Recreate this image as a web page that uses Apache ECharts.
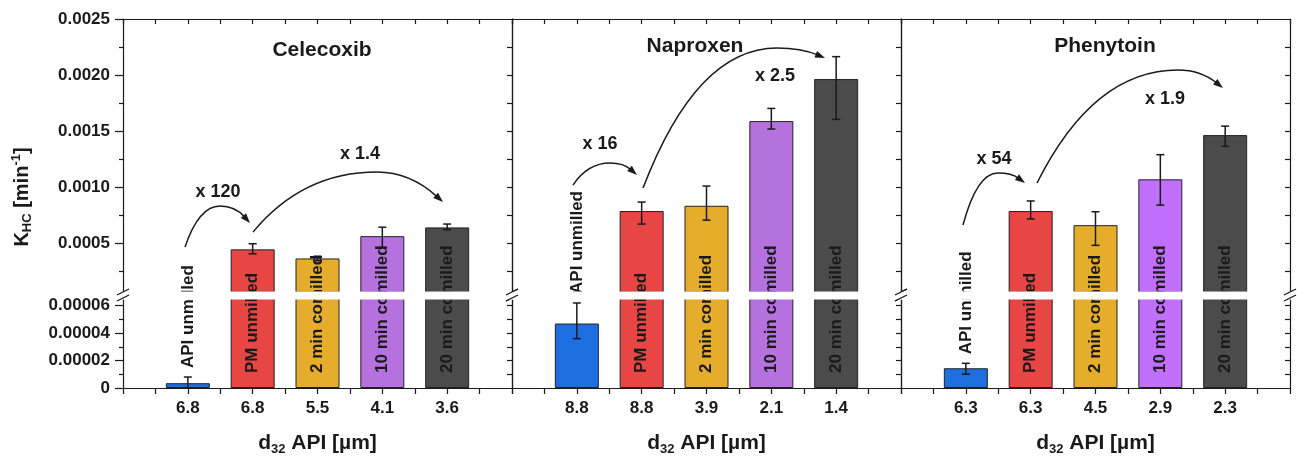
<!DOCTYPE html>
<html><head><meta charset="utf-8">
<script src="https://cdn.jsdelivr.net/npm/echarts@6.0.0/dist/echarts.min.js"></script>
<style>html,body{margin:0;padding:0;background:#fff}#c{width:1297px;height:457px}</style>
</head><body><div id="c"></div>
<script>
// ---------------- data ----------------
const drugs = ['Celecoxib', 'Naproxen', 'Phenytoin'];
const groups = ['API unmilled', 'PM unmilled', '2 min comilled', '10 min comilled', '20 min comilled'];
const d32Celecoxib = ['6.8', '6.8', '5.5', '4.1', '3.6'];
const d32Naproxen = ['8.8', '8.8', '3.9', '2.1', '1.4'];
const d32Phenytoin = ['6.3', '6.3', '4.5', '2.9', '2.3'];
const khcCelecoxib = [0.0000035, 0.000444, 0.000363, 0.000562, 0.00064];
const khcNaproxen = [0.000047, 0.000786, 0.000833, 0.001589, 0.001964];
const khcPhenytoin = [0.0000144, 0.000786, 0.00066, 0.001069, 0.001464];
const errUpCelecoxib = [0.0000045, 0.00005, 0.00002, 0.00008, 0.00003];
const errDownCelecoxib = [0.0000045, 0.00004, 0.00002, 0.0001, 0.00002];
const errUpNaproxen = [0.000015, 0.00008, 0.000176, 0.000113, 0.0002];
const errDownNaproxen = [0.000011, 0.000116, 0.000128, 0.000071, 0.00036];
const errUpPhenytoin = [0.0000036, 0.00009, 0.00012, 0.00022, 0.00008];
const errDownPhenytoin = [0.0000043, 0.00007, 0.00018, 0.00023, 0.0001];
const upperTicks = [0.0005, 0.0010, 0.0015, 0.0020, 0.0025];
const upperTickLabels = ['0.0005', '0.0010', '0.0015', '0.0020', '0.0025'];
const lowerTicks = [0, 0.00002, 0.00004, 0.00006];
const lowerTickLabels = ['0', '0.00002', '0.00004', '0.00006'];
// annotation arrows: [start x, start y, apex x, apex y, end x, end y] in data units
const arrowsCelecoxib = [[0.956, 0.000464, 1.496, 0.00083, 1.959, 0.000679], [2.005, 0.000598, 3.918, 0.001134, 4.936, 0.000866]];
const arrowsNaproxen = [[0.941, 0.001018, 1.512, 0.001214, 1.928, 0.001107], [2.021, 0.000991, 4.088, 0.002241, 4.828, 0.002152]];
const arrowsPhenytoin = [[0.956, 0.000661, 1.496, 0.001125, 1.913, 0.001036], [2.098, 0.001036, 4.273, 0.002045, 4.967, 0.001884]];
const factorTextCelecoxib = ['x 120', 'x 1.4'];
const factorPosCelecoxib = [[1.465, 0.000955], [3.656, 0.001295]];
const factorTextNaproxen = ['x 16', 'x 2.5'];
const factorPosNaproxen = [[1.357, 0.001384], [4.057, 0.001991]];
const factorTextPhenytoin = ['x 54', 'x 1.9'];
const factorPosPhenytoin = [[1.434, 0.00125], [4.072, 0.001786]];

// ---------------- styles / layout ----------------
const colorsCelecoxib = ['#1d6fe0', '#e84545', '#e6ad2c', '#b572de', '#4b4b4b'];
const colorsNaproxen = ['#1d6fe0', '#e84545', '#e6ad2c', '#b572de', '#4b4b4b'];
const colorsPhenytoin = ['#1d6fe0', '#e84545', '#e6ad2c', '#c070fc', '#4b4b4b'];
const FONT = '"Liberation Sans", Arial, sans-serif';
const INK = '#1a1a1a';
const PANEL_LEFT = [123, 512, 901], PANEL_W = 389;
const UP_TOP = 19, UP_H = 279, LOW_TOP = 292, LOW_H = 96;
const UP_MIN = 0.00001, UP_MAX = 0.0025, LOW_MIN = 0, LOW_MAX = 0.00007;
const TITLE_X = [317, 690, 1100], TITLE_TOP = [35, 31, 31];

const panels = [
  {d32: d32Celecoxib, khc: khcCelecoxib, up: errUpCelecoxib, dn: errDownCelecoxib, colors: colorsCelecoxib, arrows: arrowsCelecoxib, fText: factorTextCelecoxib, fPos: factorPosCelecoxib},
  {d32: d32Naproxen, khc: khcNaproxen, up: errUpNaproxen, dn: errDownNaproxen, colors: colorsNaproxen, arrows: arrowsNaproxen, fText: factorTextNaproxen, fPos: factorPosNaproxen},
  {d32: d32Phenytoin, khc: khcPhenytoin, up: errUpPhenytoin, dn: errDownPhenytoin, colors: colorsPhenytoin, arrows: arrowsPhenytoin, fText: factorTextPhenytoin, fPos: factorPosPhenytoin}
];

const steps = (a, b, s) => { const r = []; for (let k = 0; a + k * s <= b + 1e-12; k++) r.push(+(a + k * s).toFixed(8)); return r; };
const xTickPos = steps(0, 6, 0.5);
const upperMinor = steps(0.00025, 0.00225, 0.0005);
const upperAll = steps(0.00025, 0.00225, 0.00025);
const lowerMinor = steps(0.00001, 0.00005, 0.00002);
const lowerAll = steps(0.00001, 0.00006, 0.00001);
const lbl = (ticks, labels) => v => { const i = ticks.findIndex(t => Math.abs(t - v) < 1e-9); return i < 0 ? '' : labels[i]; };

const lineSt = {color: INK, width: 1.2};
const tickFont = {fontSize: 17, fontWeight: 'bold', fontFamily: FONT, color: INK};

const grids = [], xAxes = [], yAxes = [], series = [], titles = [];

function errRender(params, api) {
  const x = api.value(0), v = api.value(1);
  const t = api.coord([x, v + api.value(2)]), b = api.coord([x, v - api.value(3)]);
  const hw = 4, st = {stroke: INK, lineWidth: 1.5};
  return {type: 'group', children: [
    {type: 'line', shape: {x1: t[0], y1: t[1], x2: b[0], y2: b[1]}, style: st},
    {type: 'line', shape: {x1: t[0] - hw, y1: t[1], x2: t[0] + hw, y2: t[1]}, style: st},
    {type: 'line', shape: {x1: b[0] - hw, y1: b[1], x2: b[0] + hw, y2: b[1]}, style: st}
  ]};
}

panels.forEach((P, p) => {
  const L = PANEL_LEFT[p];
  const gU = 2 * p, gL = 2 * p + 1;
  grids.push({left: L, top: UP_TOP, width: PANEL_W, height: UP_H, outerBoundsMode: 'none'});
  grids.push({left: L, top: LOW_TOP, width: PANEL_W, height: LOW_H, outerBoundsMode: 'none'});
  xAxes.push({type: 'value', gridIndex: gU, position: 'top', min: 0, max: 6,
    axisLine: {show: true, onZero: false, lineStyle: lineSt},
    axisTick: {show: true, inside: true, length: 5, customValues: xTickPos, lineStyle: lineSt},
    axisLabel: {show: false}, splitLine: {show: false}});
  xAxes.push({type: 'value', gridIndex: gL, position: 'bottom', min: 0, max: 6,
    axisLine: {show: true, onZero: false, lineStyle: lineSt},
    axisTick: {show: true, inside: false, length: 6, customValues: xTickPos, lineStyle: lineSt},
    axisLabel: Object.assign({customValues: [1, 2, 3, 4, 5], formatter: v => P.d32[Math.round(v) - 1], margin: 12}, tickFont),
    splitLine: {show: false},
    name: '{a|d}{s|32}{a| API [µm]}', nameLocation: 'middle', nameGap: 42,
    nameTextStyle: {rich: {
      a: {fontSize: 21, fontWeight: 'bold', fontFamily: FONT, color: INK, lineHeight: 26},
      s: {fontSize: 13, fontWeight: 'bold', fontFamily: FONT, color: INK, lineHeight: 13, verticalAlign: 'bottom'}
    }}});
  // upper y axes
  const yU = yAxes.length;
  yAxes.push({type: 'value', gridIndex: gU, position: 'left', min: UP_MIN, max: UP_MAX,
    axisLine: {show: true, onZero: false, lineStyle: lineSt},
    axisTick: {show: p === 0, length: 8, customValues: upperTicks, lineStyle: lineSt},
    axisLabel: Object.assign({show: p === 0, customValues: upperTicks, formatter: lbl(upperTicks, upperTickLabels), margin: 13}, tickFont),
    splitLine: {show: false}});
  if (p === 0) yAxes.push({type: 'value', gridIndex: gU, position: 'left', min: UP_MIN, max: UP_MAX,
    axisLine: {show: false, onZero: false}, axisTick: {show: true, length: 4, customValues: upperMinor, lineStyle: lineSt},
    axisLabel: {show: false}, splitLine: {show: false}});
  yAxes.push({type: 'value', gridIndex: gU, position: 'right', min: UP_MIN, max: UP_MAX,
    axisLine: {show: true, onZero: false, lineStyle: lineSt},
    axisTick: {show: true, inside: true, length: 5, customValues: upperAll, lineStyle: lineSt},
    axisLabel: {show: false}, splitLine: {show: false}});
  // lower y axes
  const yL = yAxes.length;
  yAxes.push({type: 'value', gridIndex: gL, position: 'left', min: LOW_MIN, max: LOW_MAX,
    axisLine: {show: true, onZero: false, lineStyle: lineSt},
    axisTick: {show: p === 0, length: 8, customValues: lowerTicks, lineStyle: lineSt},
    axisLabel: Object.assign({show: p === 0, customValues: lowerTicks, formatter: lbl(lowerTicks, lowerTickLabels), margin: 13}, tickFont),
    splitLine: {show: false}});
  if (p === 0) yAxes.push({type: 'value', gridIndex: gL, position: 'left', min: LOW_MIN, max: LOW_MAX,
    axisLine: {show: false, onZero: false}, axisTick: {show: true, length: 4, customValues: lowerMinor, lineStyle: lineSt},
    axisLabel: {show: false}, splitLine: {show: false}});
  yAxes.push({type: 'value', gridIndex: gL, position: 'right', min: LOW_MIN, max: LOW_MAX,
    axisLine: {show: true, onZero: false, lineStyle: lineSt},
    axisTick: {show: true, inside: true, length: 5, customValues: lowerAll, lineStyle: lineSt},
    axisLabel: {show: false}, splitLine: {show: false}});

  const barData = P.khc.map((v, i) => ({value: [i + 1, v], itemStyle: {color: P.colors[i]}}));
  const errData = P.khc.map((v, i) => [i + 1, v, P.up[i], P.dn[i]]);
  [[gU, yU], [gL, yL]].forEach(([xi, yi]) => {
    series.push({type: 'bar', xAxisIndex: xi, yAxisIndex: yi, data: barData, barWidth: 44, clip: true, z: 2,
      itemStyle: {borderColor: '#222', borderWidth: 1}});
    series.push({type: 'custom', xAxisIndex: xi, yAxisIndex: yi, data: errData, clip: true, z: 4, renderItem: errRender});
  });

  // rotated group labels
  series.push({type: 'custom', xAxisIndex: gL, yAxisIndex: yL, clip: false, z: 3,
    data: P.khc.map((v, i) => [i + 1, v, P.up[i], i]),
    renderItem: (params, api) => {
      const i = api.value(3), x = api.value(0);
      const base = api.coord([x, 0]);
      const y = i === 0 ? api.coord([x, api.value(1) + api.value(2)])[1] - 9 : base[1] - 15;
      return {type: 'text', x: base[0], y: y, rotation: Math.PI / 2,
        style: {text: groups[i], fill: INK, font: 'bold 17px ' + FONT, align: 'left', verticalAlign: 'middle'}};
    }});

  // break band and // marks
  series.push({type: 'custom', xAxisIndex: gL, yAxisIndex: yL, clip: false, z: 5, data: [[0, 0]],
    renderItem: (params) => {
      const cs = params.coordSys;
      const gap = (UP_TOP + UP_H) - LOW_TOP;
      const ch = [{type: 'rect', shape: {x: cs.x - 8, y: cs.y - 0.5, width: cs.width + 16, height: gap + 2}, style: {fill: '#fff'}}];
      [cs.x, cs.x + cs.width].forEach(xx => [cs.y, cs.y + gap].forEach(yy => {
        ch.push({type: 'line', shape: {x1: xx - 6, y1: yy + 3, x2: xx + 6, y2: yy - 3}, style: {stroke: INK, lineWidth: 1.3}});
      }));
      return {type: 'group', children: ch};
    }});

  // arrows
  series.push({type: 'custom', xAxisIndex: gU, yAxisIndex: yU, clip: false, z: 4, data: P.arrows,
    renderItem: (params, api) => {
      const S = api.coord([api.value(0), api.value(1)]);
      const A = api.coord([api.value(2), api.value(3)]);
      const E = api.coord([api.value(4), api.value(5)]);
      const c1 = [S[0] + 0.4 * (A[0] - S[0]), A[1]];
      const c2 = [A[0] + 0.5 * (E[0] - A[0]), A[1]];
      let dx = E[0] - c2[0], dy = E[1] - c2[1];
      const len = Math.hypot(dx, dy); dx /= len; dy /= len;
      const Lh = 10, Wh = 3.5;
      const bx = E[0] - dx * Lh, by = E[1] - dy * Lh;
      const st = {stroke: INK, lineWidth: 1.5, fill: null};
      return {type: 'group', children: [
        {type: 'bezierCurve', shape: {x1: S[0], y1: S[1], cpx1: c1[0], cpy1: c1[1], x2: A[0], y2: A[1]}, style: st},
        {type: 'bezierCurve', shape: {x1: A[0], y1: A[1], cpx1: c2[0], cpy1: c2[1], x2: bx + dx * 2, y2: by + dy * 2}, style: st},
        {type: 'polygon', shape: {points: [[E[0], E[1]], [bx - dy * Wh, by + dx * Wh], [bx + dy * Wh, by - dx * Wh]]}, style: {fill: INK}}
      ]};
    }});
  // factor texts
  series.push({type: 'custom', xAxisIndex: gU, yAxisIndex: yU, clip: false, z: 4,
    data: P.fPos.map((q, i) => [q[0], q[1], i]),
    renderItem: (params, api) => {
      const c = api.coord([api.value(0), api.value(1)]);
      return {type: 'text', x: c[0], y: c[1],
        style: {text: P.fText[api.value(2)], fill: INK, font: 'bold 18px ' + FONT, align: 'center', verticalAlign: 'middle'}};
    }});

  titles.push({text: drugs[p], left: TITLE_X[p], top: TITLE_TOP[p], textAlign: 'center',
    textStyle: {fontSize: 21, fontWeight: 'bold', fontFamily: FONT, color: INK}});
});

const chart = echarts.init(document.getElementById('c'), null, {renderer: 'canvas'});
chart.setOption({
  animation: false,
  backgroundColor: '#fff',
  title: titles,
  grid: grids, xAxis: xAxes, yAxis: yAxes, series: series,
  graphic: [{type: 'text', x: 22, y: 197, rotation: Math.PI / 2,
    style: {text: '{k|K}{s|HC}{k| [min}{p|-1}{k|]}', align: 'center', verticalAlign: 'middle',
      rich: {
        k: {fontSize: 20, fontWeight: 'bold', fontFamily: FONT, fill: INK, lineHeight: 24},
        s: {fontSize: 13, fontWeight: 'bold', fontFamily: FONT, fill: INK, lineHeight: 13, verticalAlign: 'bottom'},
        p: {fontSize: 13, fontWeight: 'bold', fontFamily: FONT, fill: INK, lineHeight: 13, verticalAlign: 'top'}
      }}}]
});
</script></body></html>
